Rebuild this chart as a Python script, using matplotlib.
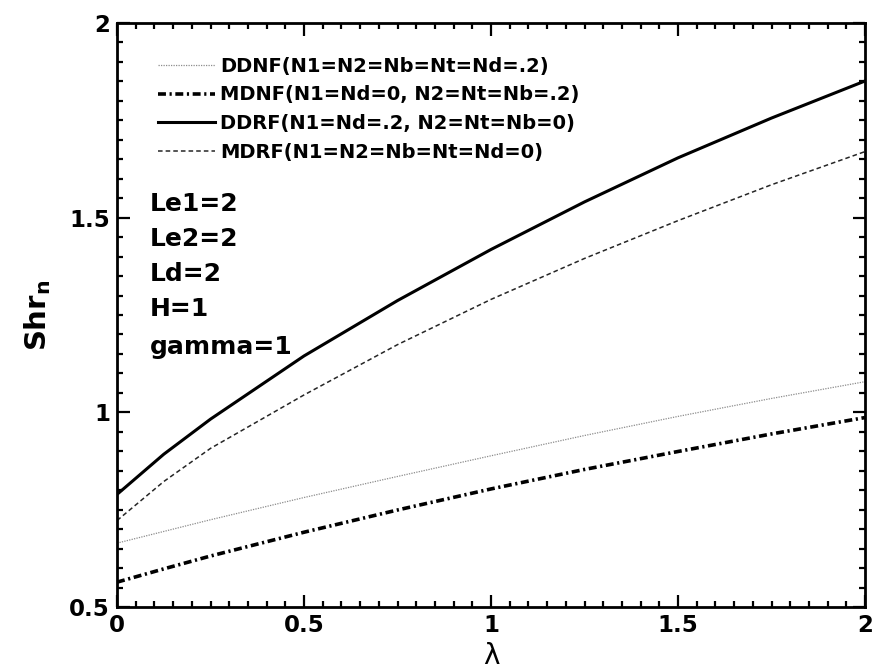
import numpy as np
import matplotlib
matplotlib.use("Agg")
import matplotlib.pyplot as plt
from matplotlib.ticker import MultipleLocator, FuncFormatter

plt.rcParams['font.family'] = ['DejaVu Sans']
plt.rcParams['font.weight'] = 'bold'
plt.rcParams['axes.labelweight'] = 'bold'
plt.rcParams['mathtext.fontset'] = 'custom'
plt.rcParams['mathtext.rm'] = 'DejaVu Sans:bold'
plt.rcParams['mathtext.bf'] = 'DejaVu Sans:bold'

# values
lam = [0, 0.125, 0.25, 0.5, 0.75, 1.0, 1.25, 1.5, 1.75, 2.0]
ddnf = [0.665, 0.695, 0.725, 0.782, 0.836, 0.889, 0.941, 0.990, 1.036, 1.079]
mdnf = [0.565, 0.599, 0.632, 0.693, 0.750, 0.804, 0.854, 0.900, 0.945, 0.987]
ddrf = [0.790, 0.893, 0.983, 1.145, 1.287, 1.418, 1.540, 1.653, 1.755, 1.850]
mdrf = [0.723, 0.823, 0.908, 1.045, 1.174, 1.290, 1.395, 1.492, 1.584, 1.669]

labels = ["DDNF(N1=N2=Nb=Nt=Nd=.2)",
          "MDNF(N1=Nd=0, N2=Nt=Nb=.2)",
          "DDRF(N1=Nd=.2, N2=Nt=Nb=0)",
          "MDRF(N1=N2=Nb=Nt=Nd=0)"]
params = ["Le1=2", "Le2=2", "Ld=2", "H=1", "gamma=1"]

fig = plt.figure(figsize=(8.74, 6.7), dpi=100)
ax = fig.add_axes([0.1339, 0.0933, 0.8558, 0.8731])

ax.plot(lam, ddnf, color='0.55', lw=0.9, ls=(0, (1, 1)), label=labels[0])
ax.plot(lam, mdnf, color='k', lw=2.6, ls=(0, (2.2, 1.0, 0.6, 1.0)), label=labels[1])
ax.plot(lam, ddrf, color='k', lw=2.2, ls='-', label=labels[2])
ax.plot(lam, mdrf, color='0.15', lw=1.1, ls=(0, (3, 2)), label=labels[3])

ax.set_xlim(0, 2)
ax.set_ylim(0.5, 2)
ax.xaxis.set_major_locator(MultipleLocator(0.5))
ax.yaxis.set_major_locator(MultipleLocator(0.5))
ax.xaxis.set_minor_locator(MultipleLocator(0.05))
ax.yaxis.set_minor_locator(MultipleLocator(0.05))
ax.xaxis.set_major_formatter(FuncFormatter(lambda v, p: "%g" % v))
ax.yaxis.set_major_formatter(FuncFormatter(lambda v, p: "%g" % v))
ax.tick_params(which='both', direction='in', top=True, right=True, width=1.6)
ax.tick_params(which='major', length=9, labelsize=16.5, pad=5)
ax.tick_params(which='minor', length=4.5)
for sp in ax.spines.values():
    sp.set_linewidth(2)

ax.set_xlabel("λ", fontsize=20, fontweight='normal', labelpad=3)
ax.set_ylabel(r"Shr$_\mathrm{n}$", fontsize=21, fontweight='bold', labelpad=12)

leg = ax.legend(loc='upper left', bbox_to_anchor=(0.055, 0.9415), frameon=False,
                fontsize=14, handlelength=2.9, handletextpad=0.3,
                labelspacing=0.5, borderpad=0, borderaxespad=0)

ys = [1.535, 1.445, 1.354, 1.265, 1.169]
for t, y in zip(params, ys):
    ax.text(0.088, y, t, fontsize=18, va='center', ha='left')

fig.savefig("out.png", dpi=100)
